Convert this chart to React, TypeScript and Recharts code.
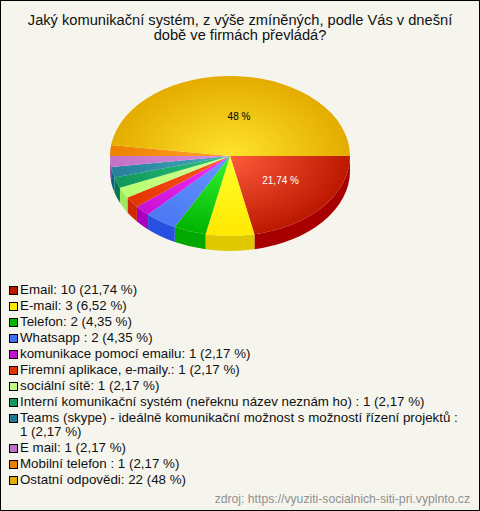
import { PieChart, Pie } from "recharts";

const categories = [
  "Email",
  "E-mail",
  "Telefon",
  "Whatsapp ",
  "komunikace pomocí emailu",
  "Firemní aplikace, e-maily.",
  "sociální sítě",
  "Interní komunikační systém (neřeknu název neznám ho) ",
  "Teams (skype) - ideálně komunikační možnost s možností řízení projektů ",
  "E mail",
  "Mobilní telefon ",
  "Ostatní odpovědi",
];
const counts = [10, 3, 2, 2, 1, 1, 1, 1, 1, 1, 1, 22];
const percents = ["21,74", "6,52", "4,35", "4,35", "2,17", "2,17", "2,17", "2,17", "2,17", "2,17", "2,17", "48"];

const centreColors = ["#ff5c3c", "#ffff2c", "#34f534", "#6496ff", "#f434fa", "#ff5a22", "#d4ff98", "#2cc47c", "#44a8bc", "#d88cdc", "#ffa42c", "#ffe42c"];
const edgeColors = ["#bc1800", "#ffe800", "#00b400", "#4c78f4", "#c810d4", "#e43400", "#b8ff70", "#10985c", "#28809c", "#c470c8", "#ec8000", "#e4ac00"];
const wallColors = ["#a80000", "#e0c800", "#00a800", "#2850e0", "#a800c0", "#d02800", "#a0e860", "#007850", "#106080", "#a050a8", "#c86800", "#c09000"];
const swatchColors = ["#bc1800", "#ffe800", "#00b400", "#4070f0", "#c010d0", "#e03400", "#c0ff80", "#109860", "#207890", "#c070c8", "#e88000", "#e4ac00"];

const chartData = categories.map((name, i) => ({ name, value: counts[i] }));

const CX = 230;
const CY = 156;
const RX = 120;
const SQUASH = 2 / 3;
const DEPTH = 15;
const FONT = "'Liberation Sans', Arial, sans-serif";

function pt(cx: number, cy: number, rx: number, deg: number) {
  const a = (-deg * Math.PI) / 180;
  return { x: cx + rx * Math.cos(a), y: cy + rx * SQUASH * Math.sin(a) };
}

function TopSlice(props: any) {
  const { cx, cy, outerRadius: r, startAngle, endAngle, index } = props;
  const a = pt(cx, cy, r, startAngle);
  const b = pt(cx, cy, r, endAngle);
  const large = Math.abs(endAngle - startAngle) > 180 ? 1 : 0;
  const d = `M${cx},${cy} L${a.x},${a.y} A${r},${r * SQUASH} 0 ${large} 1 ${b.x},${b.y} Z`;
  return <path d={d} fill={`url(#top${index})`} />;
}

function WallSlice(props: any) {
  const { cx, cy, outerRadius: r, startAngle, endAngle, index } = props;
  const s = Math.min(startAngle, 0);
  const e = Math.max(endAngle, -180);
  if (s <= e) return <g />;
  const a = pt(cx, cy, r, s);
  const b = pt(cx, cy, r, e);
  const d = `M${a.x},${a.y} A${r},${r * SQUASH} 0 0 1 ${b.x},${b.y} L${b.x},${b.y + DEPTH} A${r},${r * SQUASH} 0 0 0 ${a.x},${a.y + DEPTH} Z`;
  return <path d={d} fill={wallColors[index]} />;
}

function SliceLabel(props: any) {
  const { cx, cy, midAngle, outerRadius: r, index } = props;
  if (counts[index] < 10) return null;
  const p = pt(cx, cy, r * 0.49, midAngle);
  return (
    <text
      x={p.x + 5}
      y={p.y - 0.5}
      textAnchor="middle"
      dominantBaseline="central"
      fontSize={10}
      fontFamily={FONT}
      fill={index === 0 ? "#ffffff" : "#000000"}
    >
      {percents[index]} %
    </text>
  );
}

export default function App() {
  return (
    <div
      style={{
        position: "relative",
        width: 480,
        height: 511,
        boxSizing: "border-box",
        border: "1px solid #000",
        background: "#f5f5ee",
        fontFamily: FONT,
        color: "#111",
        overflow: "hidden",
      }}
    >
      <style>{`body{margin:0}`}</style>
      <div style={{ position: "absolute", left: 0, width: 478, top: 12, textAlign: "center", fontSize: 14.67, lineHeight: "15px" }}>
        Jaký komunikační systém, z výše zmíněných, podle Vás v dnešní
        <br />
        době ve firmách převládá?
      </div>
      <div style={{ position: "absolute", left: -1, top: -1 }}>
        <PieChart width={480} height={270} margin={{ top: 0, right: 0, bottom: 0, left: 0 }}>
          <defs>
            {categories.map((_, i) => (
              <radialGradient
                key={i}
                id={`top${i}`}
                gradientUnits="userSpaceOnUse"
                cx={0}
                cy={0}
                r={1}
                gradientTransform={`translate(${CX},${CY}) scale(${RX},${RX * SQUASH})`}
              >
                <stop offset="0%" stopColor={centreColors[i]} />
                <stop offset="100%" stopColor={edgeColors[i]} />
              </radialGradient>
            ))}
          </defs>
          <Pie
            data={chartData}
            dataKey="value"
            nameKey="name"
            cx={CX}
            cy={CY}
            innerRadius={0}
            outerRadius={RX}
            startAngle={0}
            endAngle={-360}
            stroke="none"
            legendType="none"
            shape={WallSlice}
            isAnimationActive={false}
          />
          <Pie
            data={chartData}
            dataKey="value"
            nameKey="name"
            cx={CX}
            cy={CY}
            innerRadius={0}
            outerRadius={RX}
            startAngle={0}
            endAngle={-360}
            stroke="none"
            shape={TopSlice}
            label={SliceLabel}
            labelLine={false}
            isAnimationActive={false}
          />
        </PieChart>
      </div>
      <div style={{ position: "absolute", left: 8, top: 282, width: 452, fontSize: 13.33, lineHeight: "14px" }}>
        {categories.map((name, i) => (
          <div key={name} style={{ display: "flex", marginBottom: 2 }}>
            <span
              style={{
                flex: "none",
                width: 7,
                height: 7,
                marginTop: 3,
                marginRight: 2,
                border: "1px solid #000",
                background: swatchColors[i],
              }}
            />
            <span>
              {name}: {counts[i]} ({percents[i]} %)
            </span>
          </div>
        ))}
      </div>
      <div style={{ position: "absolute", right: 9, top: 491, fontSize: 12.2, lineHeight: "14px", color: "#909090" }}>
        zdroj: https://vyuziti-socialnich-siti-pri.vyplnto.cz
      </div>
    </div>
  );
}
